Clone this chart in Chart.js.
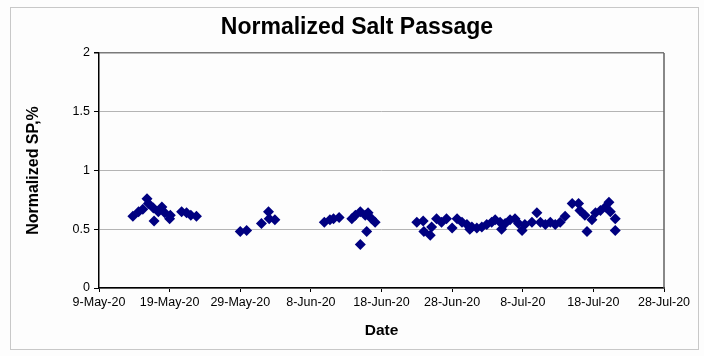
<!DOCTYPE html>
<html>
<head>
<meta charset="utf-8">
<script src="https://cdn.jsdelivr.net/npm/chart.js@4/dist/chart.umd.min.js"></script>
<style>
  html, body { margin: 0; padding: 0; background: #fdfdfd; }
  #wrap { width: 704px; height: 356px; }
</style>
</head>
<body>
<div id="wrap"><canvas id="spChart" width="704" height="356"></canvas></div>
<script>
// Данные: дни от 9-May-20 и нормализованный солевой проскок, %
const sampleDays = [
    4.8, 5.6, 6.2, 6.8, 7.0, 7.7, 7.8, 8.4, 8.9, 9.3, 10.0, 10.1, 11.7, 12.4, 13.0, 13.8,
    20.0, 20.9, 23.0, 24.0, 24.1, 24.9,
    31.9, 32.7, 33.2, 34.0, 35.8, 36.3, 37.0, 37.7, 38.1, 38.6, 39.1, 37.9, 37.0,
    45.0, 45.9, 46.0, 46.9, 47.1, 47.8, 48.5, 49.2, 50.0, 50.7, 51.4, 52.1, 52.5, 52.8, 53.5,
    54.2, 54.9, 55.6, 56.1, 56.8, 57.0, 57.5, 58.2, 58.9, 59.4, 59.9, 60.3, 61.3, 62.0, 62.5,
    63.2, 63.9, 64.6, 65.3, 66.0, 67.0, 67.9, 68.1, 68.8, 69.1, 69.8, 70.3, 71.0, 71.7, 72.2,
    72.4, 73.1, 73.1
];
const spValues = [
    0.61, 0.65, 0.67, 0.76, 0.72, 0.68, 0.57, 0.65, 0.69, 0.64, 0.59, 0.62, 0.65, 0.64, 0.62, 0.61,
    0.48, 0.49, 0.55, 0.65, 0.59, 0.58,
    0.56, 0.58, 0.59, 0.60, 0.59, 0.62, 0.65, 0.62, 0.64, 0.59, 0.56, 0.48, 0.37,
    0.56, 0.57, 0.48, 0.45, 0.52, 0.59, 0.56, 0.59, 0.51, 0.59, 0.56, 0.54, 0.50, 0.52, 0.51,
    0.52, 0.54, 0.56, 0.58, 0.56, 0.50, 0.55, 0.58, 0.59, 0.55, 0.49, 0.54, 0.56, 0.64, 0.56,
    0.54, 0.56, 0.54, 0.56, 0.61, 0.72, 0.72, 0.66, 0.62, 0.48, 0.58, 0.64, 0.66, 0.69, 0.73,
    0.65, 0.59, 0.49
];
const xTickLabels = ['9-May-20', '19-May-20', '29-May-20', '8-Jun-20', '18-Jun-20',
                     '28-Jun-20', '8-Jul-20', '18-Jul-20', '28-Jul-20'];
const xTickStep = 10;
const yTickLabels = ['0', '0.5', '1', '1.5', '2'];
const yTickStep = 0.5;

const points = sampleDays.map((d, i) => ({ x: d, y: spValues[i] }));

// Рамка, правая граница области и заголовок
const framePlugin = {
    id: 'frame',
    beforeDraw(chart) {
        const ctx = chart.ctx;
        ctx.save();
        ctx.fillStyle = '#fdfdfd';
        ctx.fillRect(0, 0, chart.width, chart.height);
        ctx.strokeStyle = '#c8c8c8';
        ctx.lineWidth = 1;
        ctx.strokeRect(10.5, 7.5, 688, 342);
        ctx.restore();
    },
    afterDatasetsDraw(chart) {
        const ctx = chart.ctx;
        const a = chart.chartArea;
        ctx.save();
        ctx.strokeStyle = '#606060';
        ctx.lineWidth = 1.5;
        ctx.beginPath();
        ctx.moveTo(a.right, a.top);
        ctx.lineTo(a.right, a.bottom);
        ctx.stroke();
        ctx.fillStyle = '#000';
        ctx.font = 'bold 23px "Liberation Sans", Arial, sans-serif';
        ctx.textAlign = 'center';
        ctx.textBaseline = 'middle';
        ctx.fillText('Normalized Salt Passage', 357, 28);
        ctx.restore();
    }
};

new Chart(document.getElementById('spChart'), {
    type: 'scatter',
    data: {
        datasets: [{
            label: 'Normalized SP',
            data: points,
            pointStyle: 'rectRot',
            pointRadius: 5.5,
            pointBackgroundColor: '#000080',
            pointBorderColor: '#000080',
            pointBorderWidth: 0
        }]
    },
    options: {
        responsive: false,
        animation: false,
        layout: { padding: { left: 10, right: 40, top: 53, bottom: 0 } },
        plugins: {
            legend: { display: false },
            title: { display: false },
            tooltip: { enabled: false }
        },
        scales: {
            x: {
                type: 'linear',
                min: 0,
                max: 80,
                afterFit: (scale) => { scale.height = 68; },
                ticks: {
                    stepSize: xTickStep,
                    autoSkip: false,
                    maxRotation: 0,
                    padding: 3,
                    color: '#000',
                    font: { family: '"Liberation Sans", Arial, sans-serif', size: 12.5 },
                    callback: (v) => xTickLabels[Math.round(v / xTickStep)]
                },
                grid: { drawOnChartArea: false, drawTicks: true, tickLength: 4, tickColor: '#000' },
                border: { color: '#000', width: 1.5 },
                title: {
                    display: true,
                    text: 'Date',
                    color: '#000',
                    font: { family: '"Liberation Sans", Arial, sans-serif', size: 15.5, weight: 'bold' },
                    padding: { top: 16, bottom: 16 }
                }
            },
            y: {
                min: 0,
                max: 2,
                afterFit: (scale) => { scale.width = 89; },
                ticks: {
                    stepSize: yTickStep,
                    padding: 4,
                    color: '#000',
                    font: { family: '"Liberation Sans", Arial, sans-serif', size: 12.5 },
                    callback: (v) => yTickLabels[Math.round(v / yTickStep)]
                },
                grid: {
                    color: (c) => c.tick && c.tick.value === 2 ? '#7a7a7a' : '#b4b4b4',
                    lineWidth: (c) => c.tick && c.tick.value === 2 ? 1.5 : 1,
                    tickLength: 5,
                    tickColor: '#000'
                },
                border: { color: '#000', width: 1.5 },
                title: {
                    display: true,
                    text: 'Normalized SP,%',
                    color: '#000',
                    font: { family: '"Liberation Sans", Arial, sans-serif', size: 16, weight: 'bold' },
                    padding: { top: 14, bottom: 14 }
                }
            }
        }
    },
    plugins: [framePlugin]
});
</script>
</body>
</html>
